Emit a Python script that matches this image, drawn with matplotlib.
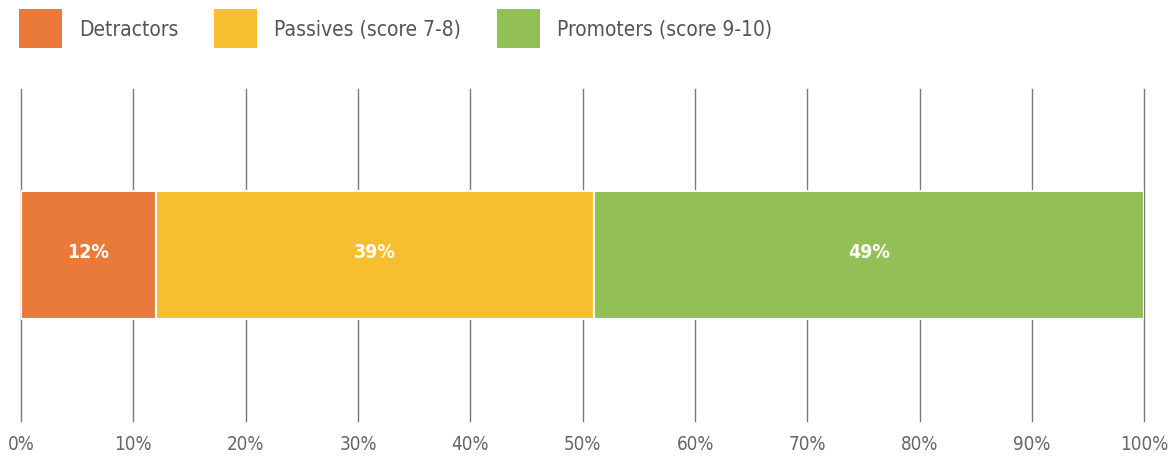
import matplotlib.pyplot as plt
from matplotlib.patches import Patch

# net promoter breakdown
categories = ["Detractors", "Passives (score 7-8)", "Promoters (score 9-10)"]
shares = [12, 39, 49]
bar_labels = ["12%", "39%", "49%"]
colors = ["#E97A3A", "#F7BE2D", "#92C057"]
tick_values = [0, 10, 20, 30, 40, 50, 60, 70, 80, 90, 100]
tick_labels = [f"{v}%" for v in tick_values]

plt.rcParams['font.family'] = ['DejaVu Sans']

fig = plt.figure(figsize=(11.73, 4.6), dpi=100)
ax = fig.add_axes([0.0179, 0.0826, 0.9578, 0.7217])

left = 0
for val, col, lab in zip(shares, colors, bar_labels):
    ax.barh(0.5, val, left=left, height=0.383, color=col, edgecolor="white",
            linewidth=1.5, zorder=3)
    ax.text(left + val / 2, 0.51, lab, ha="center", va="center", color="white",
            fontsize=14, fontweight="bold", fontstretch="condensed", zorder=4)
    left += val

ax.set_xlim(0, 100)
ax.set_ylim(0, 1)
ax.set_xticks(tick_values)
ax.set_xticklabels(tick_labels, fontsize=13.5, color="#666666", fontstretch="condensed")
ax.set_yticks([])
ax.tick_params(axis="x", length=0, pad=9)
ax.grid(axis="x", color="#7a7a7a", linewidth=1.0, zorder=0)
for gl in ax.get_xgridlines():
    gl.set_clip_on(False)
ax.set_axisbelow(True)
for s in ax.spines.values():
    s.set_visible(False)

handles = [Patch(facecolor=c, edgecolor="none") for c in colors]
leg = fig.legend(handles, categories, loc="upper left", bbox_to_anchor=(0.0162, 0.978),
                 ncol=3, frameon=False, handlelength=2.06,
                 handleheight=2.5, handletextpad=0.82, columnspacing=1.73,
                 borderpad=0, borderaxespad=0,
                 prop={"size": 15, "stretch": "condensed"})
for t in leg.get_texts():
    t.set_color("#555555")

fig.savefig("out.png", dpi=100)
